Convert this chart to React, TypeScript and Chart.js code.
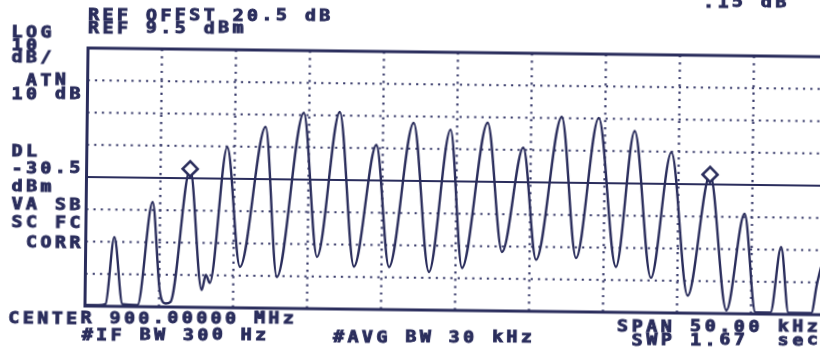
import { useEffect, useRef } from "react";
import { Chart, registerables } from "chart.js";

Chart.register(...registerables);

// Trace vertices: offset from the centre frequency (kHz) and level (dBm)
const traceOffsetKHz = [
  -25.0, -24.09, -23.61, -23.07, -22.47, -21.45, -20.51, -19.97, -19.56, -19.22,
  -18.0, -17.13, -16.86, -16.59, -15.51, -14.56, -12.94, -12.06, -10.37, -9.36,
  -7.94, -6.86, -5.44, -4.49, -2.94, -1.79, -0.44, 0.44, 2.06, 3.14,
  4.49, 5.44, 7.06, 8.14, 9.56, 10.84, 12.0, 13.21, 14.5, 15.71,
  17.13, 18.34, 19.49, 20.3, 21.32, 21.99, 22.53, 24.08, 24.43, 25.0,
];
const traceLevelDbm = [
  -70.2, -70.2, -69.8, -49.0, -69.8, -70.0, -38.0, -65.2, -69.4, -68.9,
  -27.6, -65.1, -60.4, -62.9, -20.7, -57.8, -14.3, -60.8, -9.8, -54.4,
  -9.4, -57.3, -19.5, -57.3, -12.5, -58.7, -14.5, -57.3, -12.2, -52.2,
  -19.8, -54.5, -10.1, -53.8, -10.3, -56.4, -14.2, -59.7, -20.7, -65.1,
  -27.45, -69.5, -39.5, -70.0, -70.0, -49.6, -70.0, -70.0, -61.2, -50.0,
];

// Normal marker and delta marker
const markerOffsetKHz = [-18.0, 17.13];
const markerLevelDbm = [-27.6, -27.45];

// Instrument settings
const centerMHz = 900;
const spanKHz = 50;
const refLevelDbm = 9.5;
const refOffsetDb = 20.5;
const dbPerDiv = 10;
const atnDb = 10;
const displayLineDbm = -30.5;
const ifBwHz = 300;
const avgBwKHz = 30;
const sweepSec = 1.67;
const vertDivs = 8;
const horizDivs = 10;

// Annotation text
const deltaDb = markerLevelDbm[1] - markerLevelDbm[0];
const headerLines = [
  `REF OFFST ${refOffsetDb.toFixed(1)} dB`,
  `REF ${refLevelDbm.toFixed(1)} dBm`,
];
const scaleLines = ["LOG", String(dbPerDiv), "dB/", " ATN", `${atnDb} dB`];
const displayLines = ["DL", displayLineDbm.toFixed(1), "dBm", "VA SB", "SC FC", " CORR"];
const centerLine = `CENTER ${centerMHz.toFixed(5)} MHz`;
const ifBwLine = `#IF BW ${ifBwHz} Hz`;
const avgBwLine = `#AVG BW ${avgBwKHz} kHz`;
const spanLines = [`SPAN ${spanKHz.toFixed(2)} kHz`, ` SWP ${sweepSec.toFixed(2)}  sec`];
const deltaLine = `${deltaDb.toFixed(2).replace(/^0/, "")} dB`;

// Page geometry
const W = 840;
const H = 400;
const OY = 20;
const TILT_DEG = 0.68;
const PIVOT_X = 85;
const PIVOT_Y = 177;
const INK = "#2a2d5c";
const GRID = "#3a3d6c";

const TH = (TILT_DEG * Math.PI) / 180;
const COS = Math.cos(TH);
const SIN = Math.sin(TH);

// page position -> canvas position (the canvas is turned by TILT_DEG)
function toCanvas(x: number, y: number): [number, number] {
  const dx = x - PIVOT_X;
  const dy = y - PIVOT_Y;
  return [PIVOT_X + dx * COS + dy * SIN, PIVOT_Y - dx * SIN + dy * COS + OY];
}

// fixed-pitch printer lettering
function drawRow(ctx: CanvasRenderingContext2D, text: string, x: number, y: number, pitch = 14.45) {
  for (let i = 0; i < text.length; i++) {
    const ch = text[i];
    if (ch === " ") continue;
    const [cx, cy] = toCanvas(x + i * pitch, y);
    ctx.save();
    ctx.translate(cx, cy);
    ctx.scale(1.22, 1);
    ctx.fillText(ch, 0, 0);
    ctx.strokeText(ch, 0, 0);
    ctx.restore();
  }
}

function line(ctx: CanvasRenderingContext2D, x1: number, y1: number, x2: number, y2: number) {
  ctx.beginPath();
  ctx.moveTo(x1, y1);
  ctx.lineTo(x2, y2);
  ctx.stroke();
}

const analyzerFace = {
  id: "analyzerFace",
  beforeDraw(chart: any) {
    const ctx = chart.ctx as CanvasRenderingContext2D;
    ctx.save();
    ctx.fillStyle = "#ffffff";
    ctx.fillRect(0, 0, chart.width, chart.height);
    ctx.restore();
  },
  beforeDatasetsDraw(chart: any) {
    const ctx = chart.ctx as CanvasRenderingContext2D;
    const a = chart.chartArea;
    const xs = chart.scales.x;
    const ys = chart.scales.y;
    ctx.save();
    // dotted graticule
    ctx.strokeStyle = GRID;
    ctx.lineWidth = 2.2;
    ctx.setLineDash([2.2, 5.1]);
    for (let i = 1; i < horizDivs; i++) {
      const px = xs.getPixelForValue(-spanKHz / 2 + (i * spanKHz) / horizDivs);
      line(ctx, px, a.top, px, a.bottom);
    }
    for (let j = 1; j < vertDivs; j++) {
      const py = ys.getPixelForValue(refLevelDbm - j * dbPerDiv);
      line(ctx, a.left, py, a.right, py);
    }
    ctx.setLineDash([]);
    // display line
    ctx.strokeStyle = INK;
    ctx.lineWidth = 2.2;
    const dl = ys.getPixelForValue(displayLineDbm);
    line(ctx, a.left, dl, a.right, dl);
    // graticule frame
    ctx.lineWidth = 3;
    ctx.strokeRect(a.left, a.top, a.right - a.left, a.bottom - a.top);
    ctx.restore();
  },
  afterDraw(chart: any) {
    const ctx = chart.ctx as CanvasRenderingContext2D;
    ctx.save();
    ctx.fillStyle = INK;
    ctx.strokeStyle = INK;
    ctx.lineWidth = 0.9;
    ctx.font = 'bold 15px "DejaVu Sans Mono"';
    ctx.textBaseline = "alphabetic";
    ctx.textAlign = "left";

    drawRow(ctx, headerLines[0], 88, 20.5);
    drawRow(ctx, headerLines[1], 88, 33);

    const scaleBase = [37, 50, 62, 85, 99];
    scaleLines.forEach((t, i) => drawRow(ctx, t, 11.5, scaleBase[i]));
    const dlBase = [156.5, 173, 191.5, 209.5, 227.5, 247.5];
    displayLines.forEach((t, i) => drawRow(ctx, t, 11.5, dlBase[i]));

    drawRow(ctx, centerLine, 8.3, 323.3);
    drawRow(ctx, ifBwLine, 81.7, 340);
    drawRow(ctx, avgBwLine, 333, 342);
    drawRow(ctx, spanLines[0], 617, 331.5, 14.6);
    drawRow(ctx, spanLines[1], 617, 345, 14.6);
    drawRow(ctx, deltaLine, 703, 7);
    ctx.restore();
  },
};

export default function App() {
  const ref = useRef<HTMLCanvasElement | null>(null);

  useEffect(() => {
    const canvas = ref.current;
    if (!canvas) return;
    const trace = traceOffsetKHz.map((f, i) => ({ x: f, y: traceLevelDbm[i] }));
    const markers = markerOffsetKHz.map((f, i) => ({ x: f, y: markerLevelDbm[i] }));
    const chart = new Chart(canvas, {
      type: "line",
      data: {
        datasets: [
          {
            data: markers,
            showLine: false,
            pointStyle: "rectRot",
            pointRadius: 7.5,
            pointBorderWidth: 2.6,
            pointBorderColor: INK,
            pointBackgroundColor: "#ffffff",
            borderColor: INK,
            order: 0,
          },
          {
            data: trace,
            borderColor: INK,
            borderWidth: 2.4,
            pointRadius: 0,
            cubicInterpolationMode: "monotone",
            fill: false,
            order: 1,
          },
        ],
      },
      options: {
        animation: false,
        responsive: false,
        devicePixelRatio: 1,
        events: [],
        layout: {
          padding: { left: 86.5, top: 48 + OY, right: W - 826.5, bottom: H - (306 + OY) },
        },
        scales: {
          x: { type: "linear", min: -spanKHz / 2, max: spanKHz / 2, display: false },
          y: { type: "linear", min: refLevelDbm - vertDivs * dbPerDiv, max: refLevelDbm, display: false },
        },
        plugins: {
          legend: { display: false },
          tooltip: { enabled: false },
        },
      },
      plugins: [analyzerFace],
    });
    return () => chart.destroy();
  }, []);

  return (
    <div
      style={{
        position: "fixed",
        left: 0,
        top: 0,
        width: 820,
        height: 358,
        overflow: "hidden",
        background: "#ffffff",
      }}
    >
      <canvas
        ref={ref}
        width={W}
        height={H}
        style={{
          position: "absolute",
          left: 0,
          top: -OY,
          width: W,
          height: H,
          transform: `rotate(${TILT_DEG}deg)`,
          transformOrigin: `${PIVOT_X}px ${PIVOT_Y + OY}px`,
        }}
      />
    </div>
  );
}
